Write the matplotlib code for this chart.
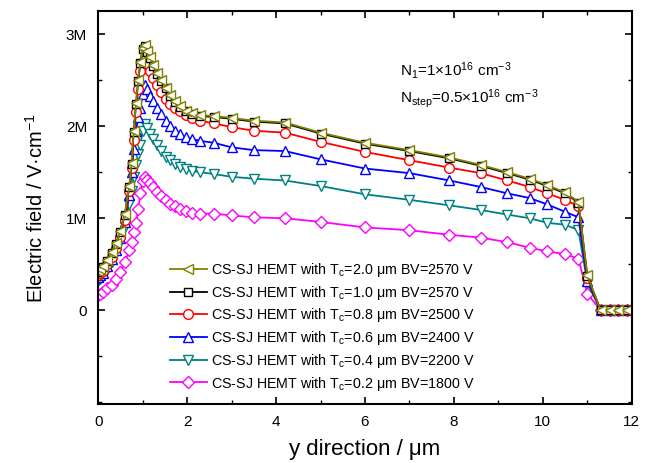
import matplotlib
matplotlib.use('Agg')
import matplotlib.pyplot as plt
from matplotlib.ticker import MultipleLocator, FixedLocator, FuncFormatter

plt.rcParams.update({
    'font.family': ['Liberation Sans', 'DejaVu Sans'],
    'mathtext.fontset': 'custom',
    'mathtext.rm': 'Liberation Sans',
    'mathtext.it': 'Liberation Sans:italic',
    'mathtext.bf': 'Liberation Sans:bold',
    'xtick.direction': 'in',
    'ytick.direction': 'in',
    'xtick.top': True,
    'ytick.right': True,
})

# y position along the device (um), common mesh for every curve
y_pos = [0.0, 0.05, 0.1, 0.2, 0.3, 0.4, 0.5, 0.6, 0.7, 0.75, 0.8, 0.85, 0.9, 0.95,
         1.0, 1.05, 1.1, 1.17, 1.24, 1.32, 1.42, 1.52, 1.62, 1.73, 1.85, 1.97,
         2.12, 2.3, 2.6, 3.0, 3.5, 4.2, 5.0, 6.0, 7.0, 7.9, 8.6, 9.2, 9.7, 10.1,
         10.5, 10.8, 11.0, 11.3, 11.5, 11.7, 11.9]

# electric field in MV/cm
E_tc20 = [0.43, 0.45, 0.48, 0.55, 0.63, 0.73, 0.86, 1.05, 1.35, 1.60, 1.95, 2.25, 2.50, 2.70,
          2.85, 2.88, 2.82, 2.75, 2.66, 2.58, 2.50, 2.42, 2.34, 2.27, 2.22, 2.17,
          2.14, 2.12, 2.11, 2.09, 2.06, 2.04, 1.93, 1.82, 1.74, 1.66, 1.58, 1.50, 1.43, 1.36,
          1.28, 1.18, 0.38, 0.0, 0.0, 0.0, 0.0]
E_tc10 = [0.42, 0.44, 0.47, 0.54, 0.62, 0.72, 0.85, 1.04, 1.34, 1.59, 1.94, 2.24, 2.49, 2.69,
          2.84, 2.87, 2.81, 2.74, 2.65, 2.57, 2.49, 2.41, 2.33, 2.26, 2.21, 2.16,
          2.13, 2.11, 2.10, 2.08, 2.05, 2.03, 1.92, 1.81, 1.73, 1.65, 1.57, 1.49, 1.42, 1.35,
          1.27, 1.17, 0.37, 0.0, 0.0, 0.0, 0.0]
E_tc08 = [0.38, 0.40, 0.43, 0.50, 0.58, 0.68, 0.80, 0.98, 1.30, 1.55, 1.85, 2.15, 2.40, 2.60,
          2.70, 2.72, 2.68, 2.60, 2.52, 2.45, 2.37, 2.30, 2.24, 2.20, 2.16, 2.12,
          2.09, 2.06, 2.03, 1.99, 1.95, 1.93, 1.83, 1.72, 1.63, 1.55, 1.49, 1.41, 1.34, 1.27,
          1.20, 1.13, 0.35, 0.0, 0.0, 0.0, 0.0]
E_tc06 = [0.36, 0.38, 0.41, 0.48, 0.56, 0.66, 0.78, 0.96, 1.25, 1.50, 1.75, 1.95, 2.10, 2.20,
          2.35, 2.45, 2.40, 2.33, 2.27, 2.20, 2.13, 2.06, 2.00, 1.95, 1.91, 1.88,
          1.86, 1.84, 1.82, 1.77, 1.74, 1.73, 1.64, 1.54, 1.49, 1.41, 1.34, 1.27, 1.22, 1.15,
          1.07, 1.01, 0.32, 0.0, 0.0, 0.0, 0.0]
E_tc04 = [0.32, 0.34, 0.37, 0.44, 0.52, 0.62, 0.74, 0.90, 1.15, 1.30, 1.45, 1.58, 1.70, 1.80,
          1.95, 2.02, 1.98, 1.92, 1.86, 1.80, 1.73, 1.67, 1.63, 1.59, 1.56, 1.53,
          1.51, 1.50, 1.48, 1.45, 1.43, 1.41, 1.35, 1.26, 1.20, 1.14, 1.09, 1.04, 1.00, 0.95,
          0.93, 0.87, 0.30, 0.0, 0.0, 0.0, 0.0]
E_tc02 = [0.17, 0.18, 0.20, 0.24, 0.28, 0.34, 0.42, 0.52, 0.66, 0.74, 0.85, 0.95, 1.10, 1.27,
          1.40, 1.45, 1.42, 1.38, 1.34, 1.28, 1.24, 1.20, 1.16, 1.13, 1.10, 1.08,
          1.06, 1.05, 1.05, 1.03, 1.01, 1.00, 0.96, 0.90, 0.87, 0.82, 0.79, 0.74, 0.68, 0.64,
          0.61, 0.56, 0.18, 0.0, 0.0, 0.0, 0.0]

labels = ['CS-SJ HEMT with T$_\\mathrm{c}$=2.0 μm BV=2570 V',
          'CS-SJ HEMT with T$_\\mathrm{c}$=1.0 μm BV=2570 V',
          'CS-SJ HEMT with T$_\\mathrm{c}$=0.8 μm BV=2500 V',
          'CS-SJ HEMT with T$_\\mathrm{c}$=0.6 μm BV=2400 V',
          'CS-SJ HEMT with T$_\\mathrm{c}$=0.4 μm BV=2200 V',
          'CS-SJ HEMT with T$_\\mathrm{c}$=0.2 μm BV=1800 V']
series = [E_tc20, E_tc10, E_tc08, E_tc06, E_tc04, E_tc02]
colors = ['#808000', 'black', '#ff0000', '#0000ff', '#008080', '#ff00ff']
markers = ['<', 's', 'o', '^', 'v', 'D']
msizes = [7.5, 6, 7, 7.5, 7.5, 6.5]

fig = plt.figure(figsize=(6.46, 4.63), dpi=100)
ax = fig.add_axes([0.152, 0.127, 0.826, 0.849])

handles = [None] * 6
# draw thin-channel curves first so Tc=2.0 ends up on top
for i in reversed(range(6)):
    h, = ax.plot(y_pos, [v * 1e6 for v in series[i]], color=colors[i], marker=markers[i],
                 markersize=msizes[i], markerfacecolor='white', markeredgecolor=colors[i],
                 markeredgewidth=1.0, linewidth=1.3, label=labels[i])
    handles[i] = h

ax.legend(handles=handles, loc='lower left', bbox_to_anchor=(0.11, -0.003), frameon=False,
          fontsize=10.3, handlelength=2.6, handletextpad=0.3, labelspacing=0.33)

ax.text(0.565, 0.835, 'N$_1$=1×10$^{16}$ cm$^{-3}$', transform=ax.transAxes, fontsize=11)
ax.text(0.565, 0.768, 'N$_\\mathrm{step}$=0.5×10$^{16}$ cm$^{-3}$', transform=ax.transAxes, fontsize=11)

ax.set_xlim(0, 12)
ax.set_ylim(-1.02e6, 3.25e6)
ax.xaxis.set_major_locator(MultipleLocator(2))
ax.xaxis.set_minor_locator(MultipleLocator(1))
ax.yaxis.set_major_locator(FixedLocator([0, 1e6, 2e6, 3e6]))
ax.yaxis.set_minor_locator(FixedLocator([-1e6, -0.5e6, 0.5e6, 1.5e6, 2.5e6]))
ax.yaxis.set_major_formatter(FuncFormatter(lambda v, p: '0' if v == 0 else '%dM' % round(v / 1e6)))

ax.tick_params(which='major', length=5, width=1.2, labelsize=11, pad=8)
ax.tick_params(which='minor', length=3, width=1.0)
for s in ax.spines.values():
    s.set_linewidth(1.5)

ax.set_xlabel('y direction / μm', fontsize=16, labelpad=7)
ax.set_ylabel('Electric field / V·cm$^{-1}$', fontsize=14.5, labelpad=14)

fig.savefig('out.png', dpi=100)
